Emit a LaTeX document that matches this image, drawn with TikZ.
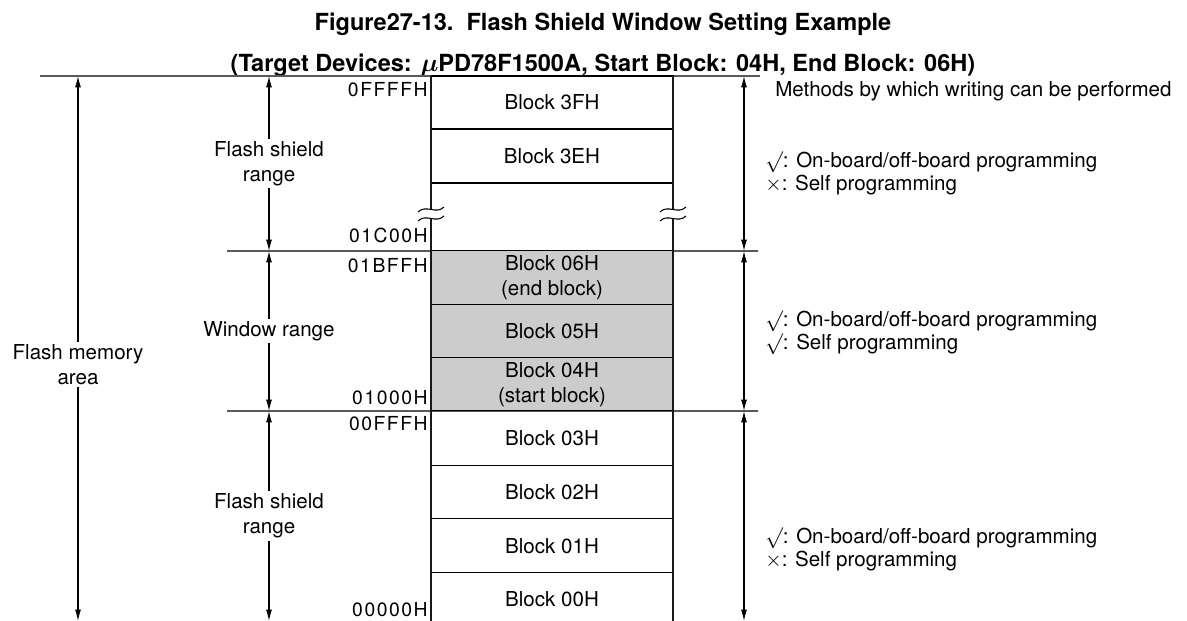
\documentclass[tikz,border=0pt]{standalone}
\usepackage{fontspec}
\usepackage{amsmath}
\setmainfont{TeX Gyre Heros}
\usetikzlibrary{positioning,arrows.meta,calc}

\begin{document}
\begin{tikzpicture}[
    x=0.02cm, y=-0.02cm,
    font=\fontsize{11.7}{14}\selectfont,
    blk/.style={draw, line width=0.6pt, minimum width=4.84cm, minimum height=#1, inner sep=0pt, outer sep=0pt, align=center},
    blk/.default=1.06cm,
    win/.style={blk=#1, fill=black!20},
    win/.default=1.06cm,
    addr/.style={anchor=base east, inner sep=0pt, font=\fontsize{11}{13}\selectfont\addfontfeature{LetterSpace=8}},
    note/.style={anchor=west, align=left, inner sep=0pt, font=\fontsize{11.7}{13}\selectfont},
    lbl/.style={fill=white, align=center, inner sep=1.5pt},
    rng/.style={{Latex[length=6.5pt,width=3.4pt]}-{Latex[length=6.5pt,width=3.4pt]}, line width=0.6pt},
    divider/.style={line width=0.7pt, black!65},
    side/.style={line width=1.4pt, black!90},
]
\useasboundingbox (0,0) rectangle (1187,621);

% Title
\node[font=\bfseries\fontsize{13.4}{16}\selectfont, anchor=base] (title) at (603,31) {Figure27-13.\ \ Flash Shield Window Setting Example};
\node[font=\bfseries\fontsize{13.4}{16}\selectfont, anchor=base] (subtitle) at (603,72) {(Target Devices: $\boldsymbol{\mu}$PD78F1500A, Start Block: 04H, End Block: 06H)};

% Range borders
\coordinate (topL) at (40,76);
\coordinate (topR) at (760,76);
\coordinate (midL) at (227,251);
\coordinate (midR) at (758,251);
\coordinate (lowL) at (227,411);
\coordinate (lowR) at (758,411);
\draw[divider] (topL) -- (topR);
\draw[divider] (midL) -- (midR);
\draw[divider] (lowL) -- (lowR);

% Memory blocks
\node[blk, anchor=north] (b3F) at (552,76) {Block 3FH};
\node[blk=1.08cm, below=0pt of b3F] (b3E) {Block 3EH};
\node[win=1.08cm, below=1.36cm of b3E] (b06) {Block 06H\\(end block)};
\node[win, below=0pt of b06] (b05) {Block 05H};
\node[win, below=0pt of b05] (b04) {Block 04H\\(start block)};
\node[blk=1.1cm, below=0pt of b04] (b03) {Block 03H};
\node[blk, below=0pt of b03] (b02) {Block 02H};
\node[blk=1.08cm, below=0pt of b02] (b01) {Block 01H};
\node[blk, below=0pt of b01] (b00) {Block 00H};

\draw[side] (b3F.north west) -- (b00.south west);
\draw[side] (b3F.north east) -- (b00.south east);

% Break marks
\foreach \bx in {431,673} {
  \fill[white] (\bx-13,212) .. controls (\bx-5,204) and (\bx+5,215) .. (\bx+13,207)
    -- (\bx+13,216) .. controls (\bx+5,224) and (\bx-5,213) .. (\bx-13,221) -- cycle;
  \draw[line width=0.6pt] (\bx-13,212) .. controls (\bx-5,204) and (\bx+5,215) .. (\bx+13,207);
  \draw[line width=0.6pt] (\bx-13,221) .. controls (\bx-5,213) and (\bx+5,224) .. (\bx+13,216);
}

% Addresses
\node[addr] (a0FFFF) at (428,97) {0FFFFH};
\node[addr] (a1C00) at (428,243) {01C00H};
\node[addr] (a1BFF) at (428,273) {01BFFH};
\node[addr] (a1000) at (428,405) {01000H};
\node[addr] (a0FFF) at (428,431) {00FFFH};
\node[addr] (a0000) at (428,616) {00000H};

% Left ranges
\coordinate (memT) at (78,76);
\coordinate (memB) at (78,621);
\draw[rng] (memT) -- node[lbl, pos=0.53] (memlbl) {Flash memory\\area} (memB);
\coordinate (fsT) at (269,76);
\coordinate (fsB) at (269,251);
\draw[rng] (fsT) -- node[lbl] (fslbl) {Flash shield\\range} (fsB);
\coordinate (wnT) at (269,251);
\coordinate (wnB) at (269,411);
\draw[rng] (wnT) -- node[lbl] (wnlbl) {Window range} (wnB);
\coordinate (lsT) at (269,411);
\coordinate (lsB) at (269,621);
\draw[rng] (lsT) -- node[lbl] (lslbl) {Flash shield\\range} (lsB);

% Right ranges
\coordinate (r1T) at (744,76);
\coordinate (r1B) at (744,251);
\coordinate (r2T) at (744,251);
\coordinate (r2B) at (744,411);
\coordinate (r3T) at (744,411);
\coordinate (r3B) at (744,621);
\draw[rng] (r1T) -- (r1B);
\draw[rng] (r2T) -- (r2B);
\draw[rng] (r3T) -- (r3B);

% Writing methods
\node[note] (meth) at (775,91) {Methods by which writing can be performed};
\node[note] (n1) at (765,173.5) {$\surd$: On-board/off-board programming\\$\times$: Self programming};
\node[note] (n2) at (765,332.5) {$\surd$: On-board/off-board programming\\$\surd$: Self programming};
\node[note] (n3) at (765,549.5) {$\surd$: On-board/off-board programming\\$\times$: Self programming};
\end{tikzpicture}
\end{document}
